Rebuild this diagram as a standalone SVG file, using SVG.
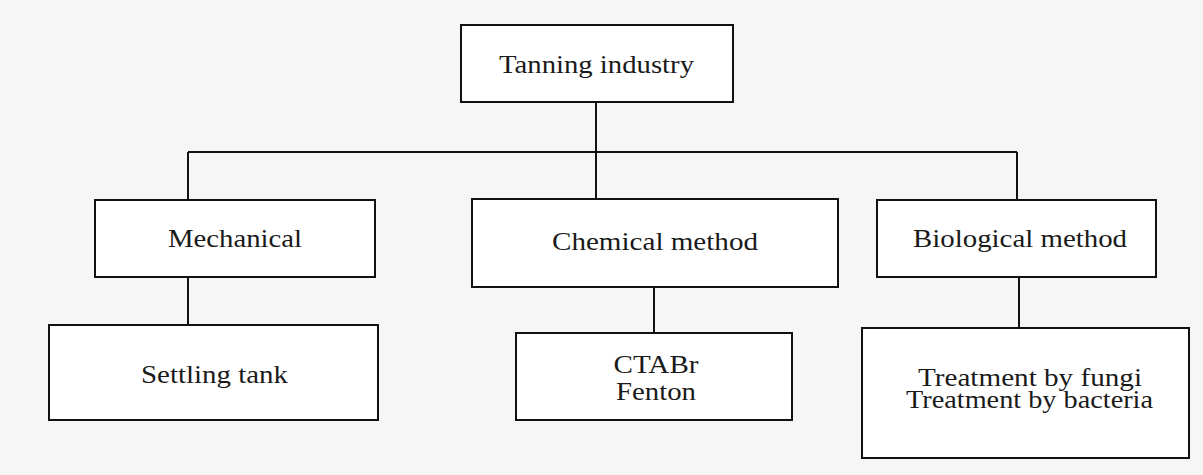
<svg xmlns="http://www.w3.org/2000/svg" width="1203" height="475" viewBox="0 0 1203 475">
<style>
.box{fill:#ffffff;stroke:#111111;stroke-width:2}
.t{font-family:"Liberation Serif","Times New Roman",serif;font-size:25px;fill:#1a1a1a;text-anchor:middle}
.c{fill:none;stroke:#111111;stroke-width:2}
</style>
<rect x="0" y="0" width="1203" height="475" fill="#f6f6f6"/>
<g id="connectors">
<line class="c" x1="596" y1="102" x2="596" y2="152"/>
<line class="c" x1="188" y1="152" x2="1017" y2="152"/>
<line class="c" x1="188" y1="152" x2="188" y2="200"/>
<line class="c" x1="596" y1="152" x2="596" y2="199"/>
<line class="c" x1="1017" y1="152" x2="1017" y2="200"/>
<line class="c" x1="188" y1="277" x2="188" y2="325"/>
<line class="c" x1="654" y1="287" x2="654" y2="333"/>
<line class="c" x1="1019" y1="277" x2="1019" y2="328"/>
</g>
<g id="tanning">
<rect class="box" x="461" y="25" width="272" height="77"/>
<text class="t" x="596.5" y="73" textLength="195" lengthAdjust="spacingAndGlyphs">Tanning industry</text>
</g>
<g id="mechanical">
<rect class="box" x="95" y="200" width="280" height="77"/>
<text class="t" x="235" y="247" textLength="134" lengthAdjust="spacingAndGlyphs">Mechanical</text>
</g>
<g id="chemical">
<rect class="box" x="472" y="199" width="366" height="88"/>
<text class="t" x="655" y="250" textLength="206" lengthAdjust="spacingAndGlyphs">Chemical method</text>
</g>
<g id="biological">
<rect class="box" x="877" y="200" width="279" height="77"/>
<text class="t" x="1020" y="247" textLength="214" lengthAdjust="spacingAndGlyphs">Biological method</text>
</g>
<g id="settling">
<rect class="box" x="49" y="325" width="329" height="95"/>
<text class="t" x="214.5" y="383" textLength="147" lengthAdjust="spacingAndGlyphs">Settling tank</text>
</g>
<g id="ctabr">
<rect class="box" x="516" y="333" width="276" height="87"/>
<text class="t" x="656" y="373" textLength="85" lengthAdjust="spacingAndGlyphs">CTABr</text>
<text class="t" x="656" y="400" textLength="80" lengthAdjust="spacingAndGlyphs">Fenton</text>
</g>
<g id="treatment">
<rect class="box" x="862" y="328" width="327" height="130"/>
<text class="t" x="1030" y="386" textLength="224" lengthAdjust="spacingAndGlyphs">Treatment by fungi</text>
<text class="t" x="1029.5" y="408" textLength="247" lengthAdjust="spacingAndGlyphs">Treatment by bacteria</text>
</g>
</svg>
